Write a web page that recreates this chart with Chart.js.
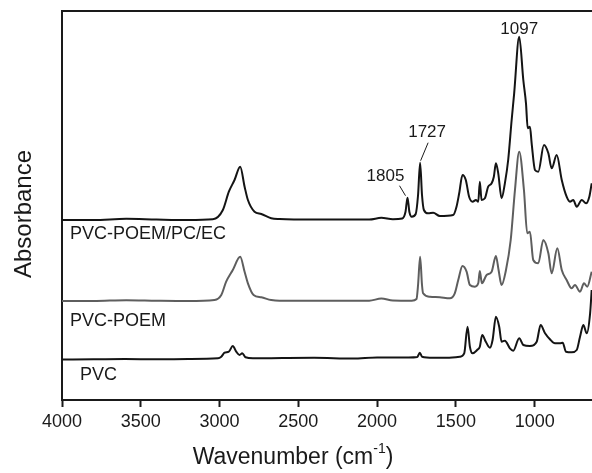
<!DOCTYPE html>
<html>
<head>
<meta charset="utf-8">
<script src="https://cdn.jsdelivr.net/npm/chart.js@4.4.1/dist/chart.umd.min.js"></script>
<style>
  html, body { margin: 0; padding: 0; background: #fff; }
  #wrap { width: 592px; height: 473px; }
</style>
</head>
<body>
<div id="wrap"><canvas id="ftir" width="592" height="473"></canvas></div>
<script>
// Wavenumbers (cm-1) and absorbance (a.u., offset per spectrum)
const wnTop = [4000, 3800, 3592, 3400, 3200, 3043, 2979, 2941, 2905, 2869, 2841, 2820, 2778, 2735, 2672, 2619, 2400, 2200, 2050, 1973, 1900, 1840, 1820, 1807, 1795, 1780, 1755, 1740, 1727, 1715, 1703, 1676, 1644, 1602, 1517, 1496, 1479, 1458, 1437, 1416, 1394, 1373, 1358, 1348, 1337, 1316, 1295, 1273, 1259, 1246, 1231, 1210, 1189, 1168, 1146, 1130, 1098, 1072, 1055, 1044, 1030, 1019, 998, 977, 941, 913, 892, 860, 828, 797, 776, 755, 733, 701, 674, 653, 638];
const absTop = [1.80, 1.80, 1.812, 1.805, 1.80, 1.807, 1.90, 2.083, 2.20, 2.333, 2.133, 2.00, 1.883, 1.86, 1.817, 1.81, 1.805, 1.805, 1.805, 1.822, 1.807, 1.815, 1.88, 2.023, 1.88, 1.833, 1.86, 2.05, 2.373, 2.05, 1.90, 1.867, 1.873, 1.84, 1.85, 1.933, 2.067, 2.25, 2.20, 2.033, 1.983, 2.00, 1.983, 2.183, 2.00, 2.017, 2.133, 2.167, 2.233, 2.367, 2.267, 2.017, 2.167, 2.40, 2.80, 3.067, 3.633, 3.20, 2.967, 2.717, 2.733, 2.567, 2.30, 2.283, 2.55, 2.467, 2.317, 2.45, 2.20, 2.033, 1.983, 2.00, 1.933, 2.00, 1.967, 2.033, 2.167];

const wnMid = [4000, 3800, 3592, 3400, 3200, 3032, 2989, 2958, 2916, 2869, 2841, 2820, 2784, 2735, 2672, 2619, 2400, 2200, 2050, 1973, 1900, 1780, 1750, 1740, 1727, 1715, 1708, 1665, 1602, 1538, 1507, 1485, 1458, 1432, 1411, 1379, 1358, 1348, 1335, 1305, 1273, 1246, 1229, 1210, 1182, 1152, 1125, 1098, 1068, 1047, 1030, 1009, 977, 945, 913, 892, 856, 828, 797, 765, 744, 712, 687, 666, 638];
const absMid = [0.99, 0.99, 0.998, 0.993, 0.99, 1.00, 1.05, 1.183, 1.30, 1.433, 1.283, 1.167, 1.05, 1.027, 1.00, 0.993, 0.993, 0.993, 0.993, 1.015, 0.995, 0.993, 1.01, 1.15, 1.433, 1.15, 1.067, 1.033, 1.027, 1.017, 1.067, 1.20, 1.34, 1.283, 1.15, 1.133, 1.167, 1.29, 1.167, 1.25, 1.283, 1.44, 1.30, 1.15, 1.30, 1.60, 2.10, 2.483, 2.10, 1.667, 1.683, 1.40, 1.367, 1.60, 1.467, 1.267, 1.517, 1.30, 1.20, 1.117, 1.15, 1.083, 1.167, 1.133, 1.283];

const wnLow = [4000, 3800, 3600, 3400, 3200, 3010, 2989, 2968, 2941, 2916, 2894, 2873, 2856, 2835, 2788, 2600, 2400, 2153, 2000, 1800, 1745, 1729, 1715, 1644, 1559, 1475, 1447, 1426, 1411, 1394, 1365, 1348, 1333, 1310, 1284, 1267, 1246, 1225, 1210, 1189, 1157, 1136, 1098, 1072, 1030, 987, 962, 934, 903, 871, 839, 822, 801, 765, 733, 712, 691, 669, 648, 638];
const absLow = [0.405, 0.407, 0.41, 0.407, 0.41, 0.417, 0.433, 0.473, 0.483, 0.54, 0.483, 0.45, 0.467, 0.427, 0.417, 0.42, 0.422, 0.415, 0.425, 0.425, 0.43, 0.473, 0.433, 0.423, 0.423, 0.433, 0.467, 0.733, 0.533, 0.467, 0.50, 0.533, 0.65, 0.583, 0.523, 0.60, 0.833, 0.733, 0.583, 0.593, 0.517, 0.493, 0.617, 0.55, 0.54, 0.583, 0.75, 0.667, 0.607, 0.567, 0.567, 0.573, 0.483, 0.477, 0.50, 0.633, 0.75, 0.667, 0.867, 1.10];

const seriesNames = ['PVC-POEM/PC/EC', 'PVC-POEM', 'PVC'];
const seriesColors = ['#141414', '#5e5e5e', '#141414'];

const xTicks = [4000, 3500, 3000, 2500, 2000, 1500, 1000];
const peakLabels = ['1097', '1727', '1805'];

const FONT = '"Liberation Sans", Arial, Helvetica, sans-serif';
const INK = '#1a1a1a';

const toPoints = (xs, ys) => xs.map((x, i) => ({ x: x, y: ys[i] }));

// frame line on top + text on the canvas (axis titles, series names, peak labels)
const decorations = {
  id: 'decorations',
  afterDraw(chart) {
    const { ctx, chartArea: a, scales: { x, y } } = chart;
    ctx.save();
    ctx.strokeStyle = INK;
    ctx.lineWidth = 2;
    ctx.beginPath();
    ctx.moveTo(a.left - 1, a.top);
    ctx.lineTo(a.right, a.top);
    ctx.stroke();

    ctx.fillStyle = INK;
    // x title with superscript
    const t1 = 'Wavenumber (cm', sup = '-1', t2 = ')';
    ctx.font = '23px ' + FONT;
    const w1 = ctx.measureText(t1).width, w2 = ctx.measureText(t2).width;
    ctx.font = '14px ' + FONT;
    const ws = ctx.measureText(sup).width;
    const cx = 293 - (w1 + ws + w2) / 2;
    const by = 464;
    ctx.textAlign = 'left';
    ctx.textBaseline = 'alphabetic';
    ctx.font = '23px ' + FONT;
    ctx.fillText(t1, cx, by);
    ctx.font = '14px ' + FONT;
    ctx.fillText(sup, cx + w1, by - 11);
    ctx.font = '23px ' + FONT;
    ctx.fillText(t2, cx + w1 + ws, by);

    // y title
    ctx.save();
    ctx.translate(24, 214);
    ctx.rotate(-Math.PI / 2);
    ctx.textAlign = 'center';
    ctx.textBaseline = 'middle';
    ctx.font = '24px ' + FONT;
    ctx.fillText('Absorbance', 0, 0);
    ctx.restore();

    // series names under each baseline
    const nameOffsets = [[8, 14.5], [8, 20.5], [18, 15.5]];
    const firsts = [absTop[0], absMid[0], absLow[0]];
    ctx.font = '18px ' + FONT;
    ctx.textAlign = 'left';
    ctx.textBaseline = 'middle';
    seriesNames.forEach((n, i) => {
      ctx.fillText(n, a.left + nameOffsets[i][0], y.getPixelForValue(firsts[i]) + nameOffsets[i][1]);
    });

    // peak labels on the top spectrum
    const peakAt = wn => {
      const i = wnTop.indexOf(wn);
      return [x.getPixelForValue(wnTop[i]), y.getPixelForValue(absTop[i])];
    };
    ctx.font = '17px ' + FONT;
    ctx.textAlign = 'center';
    ctx.lineWidth = 1;
    let [px, py] = peakAt(1098);
    ctx.textBaseline = 'bottom';
    ctx.fillText(peakLabels[0], px, py + 1);

    [px, py] = peakAt(1727);
    ctx.textBaseline = 'middle';
    ctx.fillText(peakLabels[1], px + 7, py - 30);
    ctx.beginPath();
    ctx.moveTo(px + 8, py - 20);
    ctx.lineTo(px + 0.5, py - 2);
    ctx.stroke();

    [px, py] = peakAt(1807);
    ctx.fillText(peakLabels[2], px - 22, py - 21);
    ctx.beginPath();
    ctx.moveTo(px - 8, py - 12);
    ctx.lineTo(px - 2, py - 2);
    ctx.stroke();
    ctx.restore();
  }
};

new Chart(document.getElementById('ftir').getContext('2d'), {
  type: 'line',
  data: {
    datasets: [
      { label: seriesNames[0], data: toPoints(wnTop, absTop), borderColor: seriesColors[0] },
      { label: seriesNames[1], data: toPoints(wnMid, absMid), borderColor: seriesColors[1] },
      { label: seriesNames[2], data: toPoints(wnLow, absLow), borderColor: seriesColors[2] }
    ]
  },
  options: {
    responsive: false,
    animation: false,
    layout: { padding: { top: 11, right: 0, left: 0, bottom: 0 } },
    elements: {
      point: { radius: 0 },
      line: { borderWidth: 2, tension: 0.2, cubicInterpolationMode: 'monotone' }
    },
    plugins: { legend: { display: false }, tooltip: { enabled: false } },
    scales: {
      x: {
        type: 'linear',
        reverse: true,
        min: 636,
        max: 4000,
        afterFit: s => { s.height = 73; },
        afterBuildTicks: s => { s.ticks = xTicks.map(v => ({ value: v })); },
        ticks: {
          color: INK,
          font: { family: FONT, size: 18 },
          padding: 4,
          maxRotation: 0,
          autoSkip: false,
          callback: v => String(v)
        },
        grid: { drawOnChartArea: false, tickLength: 7, tickWidth: 2, tickColor: INK },
        border: { display: true, width: 2, color: INK }
      },
      y: {
        min: 0,
        max: 3.89,
        afterFit: s => { s.width = 62; },
        ticks: { display: false },
        grid: { display: false },
        border: { display: true, width: 2, color: INK }
      }
    }
  },
  plugins: [decorations]
});
</script>
</body>
</html>
